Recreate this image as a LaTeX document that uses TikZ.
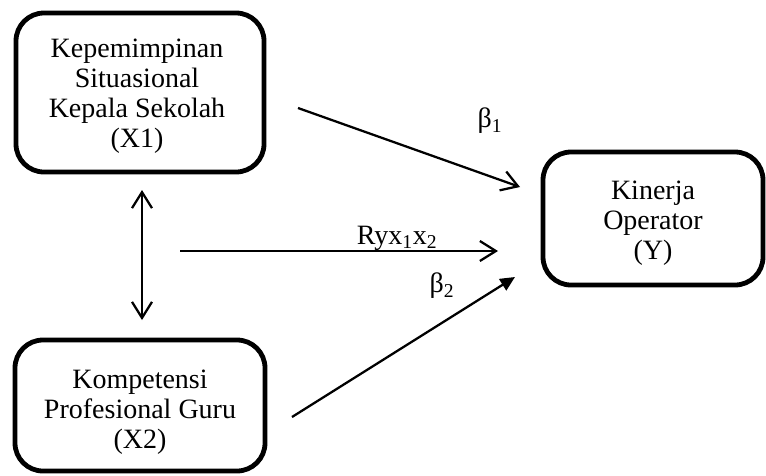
\documentclass[tikz,border=0pt]{standalone}
\usepackage{fontspec}
\setmainfont{Liberation Serif}
\usetikzlibrary{arrows.meta,calc}
\tikzset{
  box/.style={draw=black, line width=3.6pt, rounded corners=21pt, inner sep=0pt},
  txt/.style={align=center, inner sep=0pt, font=\fontsize{21}{22.5}\selectfont},
  lbl/.style={inner sep=0pt, font=\fontsize{21}{22.5}\selectfont},
  conn/.style={line width=1.7pt},
  openhead/.style={conn, -{Straight Barb[length=12pt, width=15pt, line width=1.7pt]}},
  dblhead/.style={conn, {Straight Barb[length=12pt, width=15pt, line width=1.7pt]}-{Straight Barb[length=12pt, width=15pt, line width=1.7pt]}},
  fillhead/.style={conn, -{Triangle[length=11pt, width=10pt]}}
}
\begin{document}
\begin{tikzpicture}[x=0.75pt, y=-0.75pt]
\useasboundingbox (0,0) rectangle (766,475);
% boxes
\node[box, minimum width=186pt, minimum height=119.25pt] (x1) at (140,92.5) {};
\node[box, minimum width=187.5pt, minimum height=98.25pt] (x2) at (140,405.5) {};
\node[box, minimum width=165pt, minimum height=99.75pt] (y) at (653,218.5) {};
% texts
\node[txt] (x1t) at (137,96) {Kepemimpinan\\Situasional\\Kepala Sekolah\\(X1)};
\node[txt] (x2t) at (140,412) {Kompetensi\\Profesional Guru\\(X2)};
\node[txt] (yt) at (653,223) {Kinerja\\Operator\\(Y)};
% connector ends
\coordinate (v1) at (142,190);
\coordinate (v2) at (142,320);
\coordinate (b1s) at (298,108);
\coordinate (b1e) at (520,187);
\coordinate (rs) at (180,251);
\coordinate (re) at (498,251);
\coordinate (b2s) at (292,417);
\coordinate (b2e) at (515,277);
% connectors
\draw[dblhead] (v1) -- (v2);
\draw[openhead] (b1s) -- (b1e);
\draw[openhead] (rs) -- (re);
\draw[fillhead] (b2s) -- (b2e);
% labels
\node[lbl] (lb1) at (490,121) {β\textsubscript{1}};
\node[lbl] (lr) at (397,238) {Ryx\textsubscript{1}x\textsubscript{2}};
\node[lbl] (lb2) at (442,286) {β\textsubscript{2}};
\end{tikzpicture}
\end{document}
